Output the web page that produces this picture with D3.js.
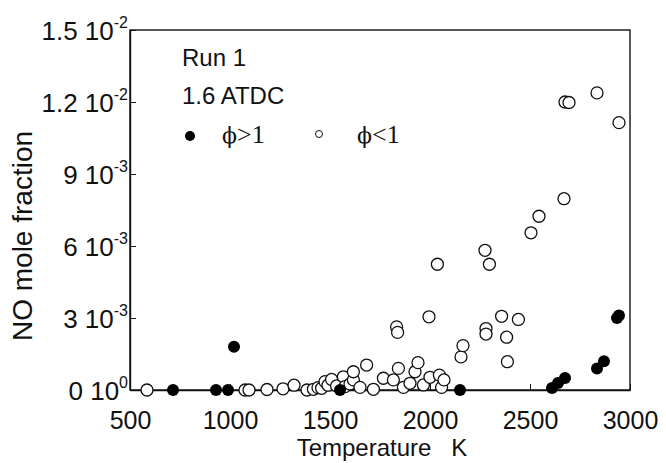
<!DOCTYPE html>
<html>
<head>
<meta charset="utf-8">
<script src="https://cdn.jsdelivr.net/npm/d3@7"></script>
<style>
html,body{margin:0;padding:0;background:#fff;}
svg{display:block;}
text{font-family:"Liberation Sans",Arial,sans-serif;fill:#111;}
</style>
</head>
<body>
<svg id="chart" width="666" height="463"></svg>
<script>
// Temperature (K)
const richT = [715, 930, 990, 1020, 1550, 2150, 2610, 2640, 2675, 2835, 2870, 2935, 2945];
// NO mole fraction (x 1e-3)
const richNO = [0, 0, 0, 1.8, 0, 0, 0.08, 0.29, 0.5, 0.9, 1.2, 3.0, 3.1];

const leanT = [585, 1075, 1095, 1185, 1265, 1320, 1385, 1417, 1440, 1458, 1475, 1490, 1508, 1533, 1567, 1575,
  1600, 1617, 1617, 1650, 1683, 1717, 1767, 1817, 1842, 1833, 1838, 1867, 1900, 1925, 1940, 1967, 2000,
  1995, 2037, 2047, 2058, 2070, 2155, 2165, 2275, 2297, 2280, 2280, 2358, 2442, 2383, 2387, 2505,
  2545, 2670, 2675, 2695, 2835, 2945];
const leanNO = [0, 0, 0, 0.02, 0.05, 0.2, 0, 0.03, 0.1, 0.07, 0.35, 0.2, 0.44, 0.17, 0.55, 0.14,
  0.25, 0.42, 0.76, 0.11, 1.04, 0.03, 0.49, 0.42, 0.9, 2.63, 2.4, 0.11, 0.28, 0.76, 1.14, 0.21, 0.53,
  3.05, 5.24, 0.62, 0.11, 0.42, 1.38, 1.85, 5.82, 5.24, 2.56, 2.33, 3.07, 2.94, 2.2, 1.18, 6.55,
  7.24, 7.97, 12.0, 11.98, 12.38, 11.14];

const xTicks = [500, 1000, 1500, 2000, 2500, 3000];
const yTicks = [0, 3, 6, 9, 12, 15];
const yTickMantissa = ["0", "3", "6", "9", "1.2", "1.5"];
const yTickExponent = ["0", "-3", "-3", "-3", "-2", "-2"];

const xTitle = "Temperature   K";
const yTitle = "NO mole fraction";
const legendLines = ["Run 1", "1.6 ATDC"];
const legendPhi = "\u03d5";
const legendRich = ">1";
const legendLean = "<1";

const svg = d3.select("#chart");
const x = d3.scaleLinear().domain([500, 3000]).range([130, 630]);
const y = d3.scaleLinear().domain([0, 15]).range([390, 30]);

// frame
svg.append("rect").attr("x", 130).attr("y", 30).attr("width", 500).attr("height", 360)
  .attr("fill", "none").attr("stroke", "#111").attr("stroke-width", 1.4);

// x axis
const xa = svg.append("g").attr("transform", "translate(0,390)")
  .call(d3.axisBottom(x).tickValues(xTicks).tickSizeInner(-6).tickSizeOuter(0).tickPadding(21).tickFormat(d3.format("d")));
xa.select(".domain").attr("stroke", "#111").attr("stroke-width", 1.4);
xa.selectAll(".tick line").attr("stroke", "#111");
xa.selectAll(".tick text").attr("font-size", 25).attr("font-family", "Liberation Sans, Arial, sans-serif").attr("fill", "#111");

// y axis
const ya = svg.append("g").attr("transform", "translate(130,0)")
  .call(d3.axisLeft(y).tickValues(yTicks).tickSizeInner(-6).tickSizeOuter(0).tickPadding(4).tickFormat(""));
ya.select(".domain").attr("stroke", "#111").attr("stroke-width", 1.4);
ya.selectAll(".tick line").attr("stroke", "#111");
ya.selectAll(".tick").each(function(d, i) {
  const t = d3.select(this).append("text")
    .attr("x", -2).attr("dy", "0.36em").attr("text-anchor", "end")
    .attr("font-size", 26).attr("fill", "#111")
    .attr("font-family", "Liberation Sans, Arial, sans-serif");
  t.append("tspan").text(yTickMantissa[i] + " 10");
  t.append("tspan").attr("font-size", 16).attr("dy", "-0.75em").text(yTickExponent[i]);
});

// titles
svg.append("text").attr("x", 382).attr("y", 456).attr("text-anchor", "middle")
  .attr("font-size", 24).style("white-space", "pre").text(xTitle);
svg.append("text").attr("transform", "translate(32,236) rotate(-90)").attr("text-anchor", "middle")
  .attr("font-size", 28).text(yTitle);

// legend
svg.append("text").attr("x", 182).attr("y", 66).attr("font-size", 24).text(legendLines[0]);
svg.append("text").attr("x", 182).attr("y", 104).attr("font-size", 24).text(legendLines[1]);
svg.append("circle").attr("cx", 190).attr("cy", 136).attr("r", 5).attr("fill", "#000");
const lr = svg.append("text").attr("x", 222).attr("y", 143).attr("font-size", 26)
  .style("font-family", "Liberation Serif, serif");
lr.append("tspan").style("font-family", "DejaVu Serif, serif").attr("font-size", 22).text(legendPhi);
lr.append("tspan").text(legendRich);
svg.append("circle").attr("cx", 319).attr("cy", 134).attr("r", 3.5).attr("fill", "#fff").attr("stroke", "#111").attr("stroke-width", 1);
const ll = svg.append("text").attr("x", 357).attr("y", 143).attr("font-size", 26)
  .style("font-family", "Liberation Serif, serif");
ll.append("tspan").style("font-family", "DejaVu Serif, serif").attr("font-size", 22).text(legendPhi);
ll.append("tspan").text(legendLean);

// data
const lean = leanT.map((t, i) => ({t, v: leanNO[i]}));
const rich = richT.map((t, i) => ({t, v: richNO[i]}));

svg.append("g").selectAll("circle").data(lean).join("circle")
  .attr("cx", d => x(d.t)).attr("cy", d => y(d.v)).attr("r", 6)
  .attr("fill", "#fff").attr("stroke", "#111").attr("stroke-width", 1.3);

svg.append("g").selectAll("circle").data(rich).join("circle")
  .attr("cx", d => x(d.t)).attr("cy", d => y(d.v)).attr("r", 6)
  .attr("fill", "#000");
</script>
</body>
</html>
